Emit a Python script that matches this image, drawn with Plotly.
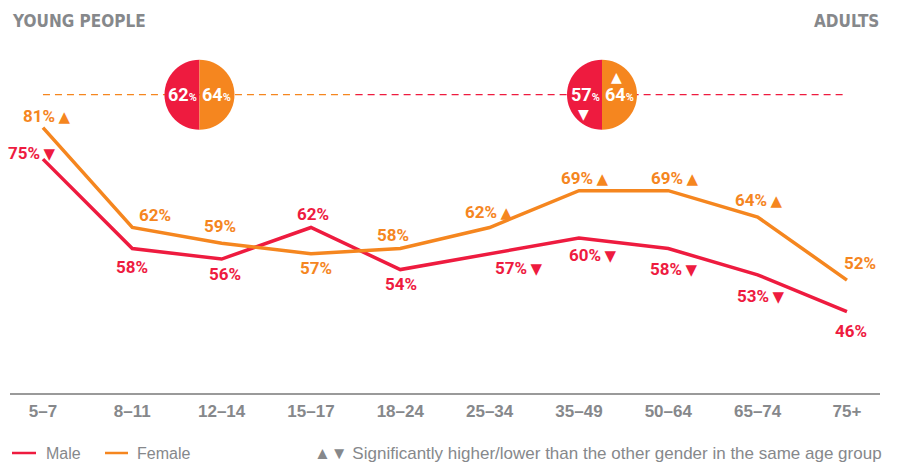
import plotly.graph_objects as go

# ---- data ----
age_groups = ["5–7", "8–11", "12–14", "15–17", "18–24", "25–34", "35–49", "50–64", "65–74", "75+"]
male = [75, 58, 56, 62, 54, 57, 60, 58, 53, 46]
female = [81, 62, 59, 57, 58, 62, 69, 69, 64, 52]
male_lower = [1, 0, 0, 0, 0, 1, 1, 1, 1, 0]      # significantly lower (▼)
female_higher = [1, 0, 0, 0, 0, 1, 1, 1, 1, 0]   # significantly higher (▲)
young_avg = {"male": 62, "female": 64}
adult_avg = {"male": 57, "female": 64}
section_titles = ["YOUNG PEOPLE", "ADULTS"]
legend_names = ["Male", "Female"]
note_text = "▲▼ Significantly higher/lower than the other gender in the same age group"

RED = "#EE1B3F"
ORANGE = "#F5861F"
GREY = "#86888B"
LABEL_FONT = "Roboto"
TITLE_FONT = "DejaVu Sans Condensed, Roboto"

# the page body adds an 8px offset; layout below is expressed in page pixels
OFF = 8
PLOT_TOP, AXIS_Y = 8, 393          # page pixels
PLOT_LEFT, PLOT_RIGHT = 10, 880
PLOT_H = AXIS_Y - PLOT_TOP

# label offsets in pixels (dx, dy up)
female_off = [(4, 12), (23, 13), (-2, 17), (5, -14), (-7, 14), (-1, 16), (6, 13), (7, 13), (1, 17), (13, 17)]
male_off = [(-11, 6), (0, -18), (3, -15), (2, 14), (1, -14), (29, -14), (14, -17), (6, -20), (3, -21), (4, -19)]

fig = go.Figure()
fig.add_trace(go.Scatter(x=age_groups, y=male, mode="lines", name=legend_names[0],
                         line=dict(color=RED, width=3.5), hoverinfo="skip"))
fig.add_trace(go.Scatter(x=age_groups, y=female, mode="lines", name=legend_names[1],
                         line=dict(color=ORANGE, width=3.5), hoverinfo="skip"))

TRI = "<span style='font-family:DejaVu Sans;font-size:10px'> </span><span style='font-family:DejaVu Sans;font-size:15px'>{}</span>"
ann = []
for i, (v, s) in enumerate(zip(female, female_higher)):
    t = f"{v}%" + (TRI.format("▲") if s else "")
    dx, dy = female_off[i]
    ann.append(dict(x=age_groups[i], y=v, xref="x", yref="y", text=t, showarrow=False,
                    xshift=dx, yshift=dy, font=dict(family=LABEL_FONT, size=17, color=ORANGE, weight="bold")))
for i, (v, s) in enumerate(zip(male, male_lower)):
    t = f"{v}%" + (TRI.format("▼") if s else "")
    dx, dy = male_off[i]
    ann.append(dict(x=age_groups[i], y=v, xref="x", yref="y", text=t, showarrow=False,
                    xshift=dx, yshift=dy, font=dict(family=LABEL_FONT, size=17, color=RED, weight="bold")))

# reference dashed line and circles
ref_y = 87.25
shapes = [
    dict(type="line", xref="x", yref="y", x0=0, x1=3.5, y0=ref_y, y1=ref_y,
         line=dict(color=ORANGE, width=1.3, dash="7px,5px"), layer="below"),
    dict(type="line", xref="x", yref="y", x0=3.5, x1=9, y0=ref_y, y1=ref_y,
         line=dict(color=RED, width=1.3, dash="7px,5px"), layer="below"),
]
r = 35
k = 0.5523 * r
left = f"M 0,{-r} C {-k},{-r} {-r},{-k} {-r},0 C {-r},{k} {-k},{r} 0,{r} Z"
right = f"M 0,{-r} C {k},{-r} {r},{-k} {r},0 C {r},{k} {k},{r} 0,{r} Z"
circle_x = [1.752, 6.258]
for cx in circle_x:
    for path, col in ((left, RED), (right, ORANGE)):
        shapes.append(dict(type="path", xref="x", yref="y", xsizemode="pixel", ysizemode="pixel",
                           xanchor=cx, yanchor=ref_y, path=path, fillcolor=col,
                           line=dict(width=0), layer="above"))

def circ_text(cx, val, dx):
    return dict(x=cx, y=ref_y, xref="x", yref="y", showarrow=False, xshift=dx, yshift=0,
                text=f"{val}<span style='font-size:11px'>%</span>",
                font=dict(family=LABEL_FONT, size=18, color="white", weight="bold"))

ann.append(circ_text(circle_x[0], young_avg["male"], -16.5))
ann.append(circ_text(circle_x[0], young_avg["female"], 17.5))
ann.append(circ_text(circle_x[1], adult_avg["male"], -16.5))
ann.append(circ_text(circle_x[1], adult_avg["female"], 17.5))
ann.append(dict(x=circle_x[1], y=ref_y, xref="x", yref="y", showarrow=False, xshift=-19, yshift=-19,
                text="▼", font=dict(family="DejaVu Sans", size=14, color="white")))
ann.append(dict(x=circle_x[1], y=ref_y, xref="x", yref="y", showarrow=False, xshift=14, yshift=18,
                text="▲", font=dict(family="DejaVu Sans", size=14, color="white")))


def px(x):
    return (x - PLOT_LEFT) / (PLOT_RIGHT - PLOT_LEFT)


def py(y):
    return (AXIS_Y - y) / PLOT_H


# section titles
ann.append(dict(x=px(10), y=py(21), xref="paper", yref="paper", xanchor="left", yanchor="middle",
                text=section_titles[0], showarrow=False,
                font=dict(family=TITLE_FONT, size=17, color=GREY, weight="bold")))
ann.append(dict(x=px(881), y=py(21), xref="paper", yref="paper", xanchor="right", yanchor="middle",
                text=section_titles[1], showarrow=False,
                font=dict(family=TITLE_FONT, size=17, color=GREY, weight="bold")))

# manual legend
leg_y = py(453)
for (x0, x1, tx), col, name in (((12, 36, 44), RED, legend_names[0]),
                                 ((105, 128, 135), ORANGE, legend_names[1])):
    shapes.append(dict(type="line", xref="paper", yref="paper", x0=px(x0), x1=px(x1), y0=leg_y, y1=leg_y,
                       line=dict(color=col, width=2.5)))
    ann.append(dict(x=px(tx), y=leg_y, xref="paper", yref="paper", xanchor="left", yanchor="middle",
                    text=name, showarrow=False, font=dict(family="Liberation Sans", size=16, color=GREY)))

ann.append(dict(x=px(884), y=leg_y, xref="paper", yref="paper",
                xanchor="right", yanchor="middle", showarrow=False, text=note_text,
                font=dict(family="Liberation Sans", size=17, color=GREY)))

# y range so that 62% sits at page y 227.5 with 5.26 px per percent
PX_PER = 5.26
y_top = 62 + (227.5 - PLOT_TOP) / PX_PER
y_bot = 62 - (AXIS_Y - 227.5) / PX_PER

fig.update_layout(
    width=898, height=464,
    margin=dict(l=PLOT_LEFT - OFF, r=898 - (PLOT_RIGHT - OFF), t=PLOT_TOP - OFF,
                b=464 - (AXIS_Y - OFF), autoexpand=False),
    paper_bgcolor="white", plot_bgcolor="white",
    showlegend=False,
    xaxis=dict(type="category", range=[-0.369, 9.37], showline=True, linecolor="#9a9a9a", linewidth=1.5,
               showgrid=False, zeroline=False, ticks="", ticklabelstandoff=2,
               tickfont=dict(family="Liberation Sans", size=17, color=GREY, weight="bold")),
    yaxis=dict(range=[y_bot, y_top], visible=False, showgrid=False, zeroline=False),
    annotations=ann,
    shapes=shapes,
)

fig.write_html("out.html")
